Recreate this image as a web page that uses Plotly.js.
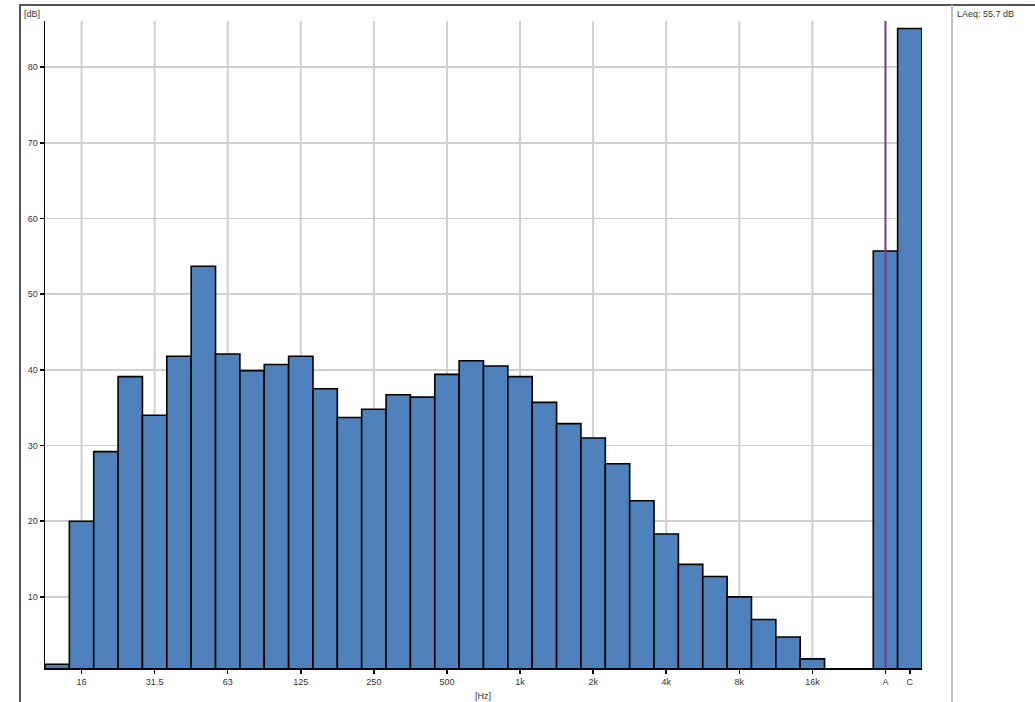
<!DOCTYPE html>
<html>
<head>
<meta charset="utf-8">
<script src="https://cdn.plot.ly/plotly-3.0.1.min.js"></script>
<style>
  html, body { margin: 0; padding: 0; background: #ffffff; }
  #chart { width: 1035px; height: 702px; }
</style>
</head>
<body>
<div id="chart"></div>
<script>
// 1/3-octave bands and levels (dB)
const bands = ['12.5','16','20','25','31.5','40','50','63','80','100','125','160','200','250','315','400','500','630','800','1k','1.25k','1.6k','2k','2.5k','3.15k','4k','5k','6.3k','8k','10k','12.5k','16k'];
const levels = [1.1,20.0,29.2,39.1,34.0,41.8,53.7,42.1,39.9,40.7,41.8,37.5,33.7,34.8,36.7,36.4,39.4,41.2,40.5,39.1,35.7,32.9,31.0,27.6,22.7,18.3,14.3,12.7,10.0,7.0,4.7,1.8];
// Weighted overall levels
const weightedLabels = ['A','C'];
const weightedLevels = [55.7, 85.1];
// Octave tick labels shown on x axis
const octaveTicks = ['16','31.5','63','125','250','500','1k','2k','4k','8k','16k'];
const yTicks = [10,20,30,40,50,60,70,80];
const laeqText = 'LAeq: 55.7 dB';

// layout geometry (pixels)
const W = 1035, H = 702;
const M = {l: 45, r: 113, t: 21, b: 34};
const plotW = W - M.l - M.r, plotH = H - M.t - M.b;
const px = x => (x - M.l) / plotW;
const py = y => (H - M.b - y) / plotH;

const gapSlots = 2;
const bandX = bands.map((b, i) => i);
const weightedX = weightedLabels.map((b, i) => bands.length + gapSlots + i);

const tickvals = octaveTicks.map(t => bands.indexOf(t)).concat(weightedX);
const ticktext = octaveTicks.concat(weightedLabels);

const barStyle = {color: '#4f81bd', line: {color: '#000000', width: 1.6}};

const traces = [
  {type: 'bar', x: bandX, y: levels, marker: barStyle, width: 1, hoverinfo: 'x+y'},
  {type: 'bar', x: weightedX, y: weightedLevels, marker: barStyle, width: 1, hoverinfo: 'y'}
];

const shapes = [];
// vertical grid lines at octave ticks
octaveTicks.forEach(t => {
  shapes.push({type: 'line', layer: 'below', xref: 'x', yref: 'paper',
    x0: bands.indexOf(t), x1: bands.indexOf(t), y0: 0, y1: 1,
    line: {color: '#cfcfcf', width: 2}});
});
// A-weighted marker line
shapes.push({type: 'line', layer: 'above', xref: 'x', yref: 'paper',
  x0: weightedX[0], x1: weightedX[0], y0: 0, y1: 1,
  line: {color: '#7a3a80', width: 2}});
// outer frame
shapes.push({type: 'line', layer: 'above', xref: 'paper', yref: 'paper',
  x0: px(20), x1: px(20), y0: py(5), y1: py(705), line: {color: '#555555', width: 2}});
shapes.push({type: 'line', layer: 'above', xref: 'paper', yref: 'paper',
  x0: px(19), x1: px(1040), y0: py(5), y1: py(5), line: {color: '#555555', width: 2}});
shapes.push({type: 'line', layer: 'above', xref: 'paper', yref: 'paper',
  x0: px(952), x1: px(952), y0: py(5), y1: py(705), line: {color: '#c0c0c0', width: 2}});

const font = {family: 'Liberation Sans, Arial, sans-serif', size: 9, color: '#333333'};

const annotations = [
  {text: '[dB]', xref: 'paper', yref: 'paper', x: px(22), y: py(14), xanchor: 'left', yanchor: 'middle',
   showarrow: false, font: font},
  {text: '[Hz]', xref: 'paper', yref: 'paper', x: px(483), y: py(696), xanchor: 'center', yanchor: 'middle',
   showarrow: false, font: font},
  {text: laeqText, xref: 'paper', yref: 'paper', x: px(955), y: py(14), xanchor: 'left', yanchor: 'middle',
   showarrow: false, font: font}
];

const layout = {
  width: W, height: H,
  margin: M,
  paper_bgcolor: '#ffffff', plot_bgcolor: '#ffffff',
  showlegend: false,
  bargap: 0,
  font: font,
  xaxis: {
    range: [-0.5, bands.length + gapSlots + weightedLabels.length - 0.5],
    tickmode: 'array', tickvals: tickvals, ticktext: ticktext,
    showgrid: false, zeroline: false,
    showline: true, linecolor: '#000000', linewidth: 2,
    ticks: 'outside', ticklen: 4, tickwidth: 1.5, tickcolor: '#000000',
    tickfont: font, fixedrange: true
  },
  yaxis: {
    range: [0.6, 86.1],
    tickmode: 'array', tickvals: yTicks,
    showgrid: true, gridcolor: '#cfcfcf', gridwidth: 1.5,
    zeroline: false,
    showline: true, linecolor: '#000000', linewidth: 1.5,
    ticks: 'outside', ticklen: 4, tickwidth: 1.5, tickcolor: '#000000',
    tickfont: font, fixedrange: true
  },
  shapes: shapes,
  annotations: annotations
};

Plotly.newPlot('chart', traces, layout, {displayModeBar: false, staticPlot: true});
</script>
</body>
</html>
